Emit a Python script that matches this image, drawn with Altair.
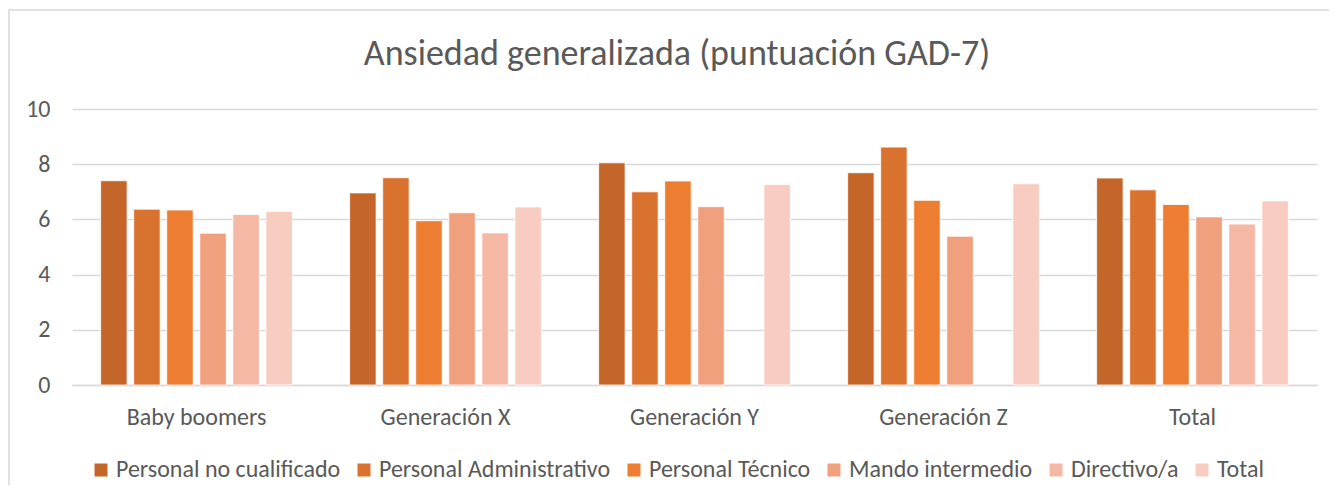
import altair as alt
import pandas as pd

title_text = "Ansiedad generalizada (puntuación GAD-7)"
groups = ["Baby boomers", "Generación X", "Generación Y", "Generación Z", "Total"]
series = ["Personal no cualificado", "Personal Administrativo", "Personal Técnico",
          "Mando intermedio", "Directivo/a", "Total"]
colors = ["#C4652A", "#D9722F", "#ED7D31", "#F0A07D", "#F4B8A4", "#F8CCC1"]

no_cualificado = [7.40, 6.96, 8.05, 7.69, 7.50]
administrativo = [6.37, 7.51, 7.00, 8.62, 7.07]
tecnico = [6.34, 5.95, 7.39, 6.69, 6.54]
mando = [5.50, 6.24, 6.46, 5.39, 6.09]
directivo = [6.18, 5.51, None, None, 5.83]
total = [6.29, 6.45, 7.26, 7.29, 6.67]

values = [no_cualificado, administrativo, tecnico, mando, directivo, total]
rows = []
for s, vals in zip(series, values):
    for g, v in zip(groups, vals):
        if v is not None:
            rows.append({"grupo": g, "serie": s, "valor": v})
df = pd.DataFrame(rows)

FONT = "Carlito, Calibri, Lato"
GREY = "#595959"

bars = alt.Chart(df).mark_bar(stroke="white", strokeWidth=0.8).encode(
    x=alt.X("grupo:N", sort=groups, title=None,
            scale=alt.Scale(paddingInner=0.23, paddingOuter=0.115),
            axis=alt.Axis(labelAngle=0, labelFontSize=24, labelColor=GREY, labelFont=FONT,
                          ticks=False, domainColor="#D9D9D9", domainWidth=1.5,
                          labelPadding=20)),
    xOffset=alt.XOffset("serie:N", sort=series, scale=alt.Scale(paddingInner=0.2, domain=series)),
    y=alt.Y("valor:Q", title=None,
            scale=alt.Scale(domain=[0, 10], nice=False),
            axis=alt.Axis(values=[0, 2, 4, 6, 8, 10], labelFontSize=24, labelColor=GREY,
                          labelFont=FONT, ticks=False, domain=False, gridColor="#D9D9D9",
                          gridWidth=1.5, labelPadding=22)),
    color=alt.Color("serie:N", sort=series,
                    scale=alt.Scale(domain=series, range=colors),
                    legend=alt.Legend(title=None, orient="none", direction="horizontal",
                                      columns=6, legendX=17, legendY=349, padding=0,
                                      symbolType="square", symbolSize=169,
                                      symbolStrokeWidth=0, labelFontSize=24,
                                      labelColor=GREY, labelFont=FONT, labelOffset=3,
                                      columnPadding=11, labelLimit=400)),
)

border = alt.Chart(pd.DataFrame({"a": [0]})).mark_rect(
    fill=None, stroke="#D9D9D9", strokeWidth=1.5
).encode(x=alt.value(-63), x2=alt.value(1400), y=alt.value(-99), y2=alt.value(600))

title = alt.Chart(pd.DataFrame({"t": [title_text]})).mark_text(
    fontSize=36, font=FONT, color=GREY, align="center", baseline="alphabetic"
).encode(text="t:N", x=alt.value(605), y=alt.value(-44))

chart = alt.layer(border, bars, title).properties(
    width=1245, height=276,
    autosize=alt.AutoSizeParams(type="none"),
    padding={"left": 64, "top": 101, "right": 12, "bottom": 100},
).configure_view(stroke=None)

chart.save("out.html", embed_options={"renderer": "svg", "actions": False})
